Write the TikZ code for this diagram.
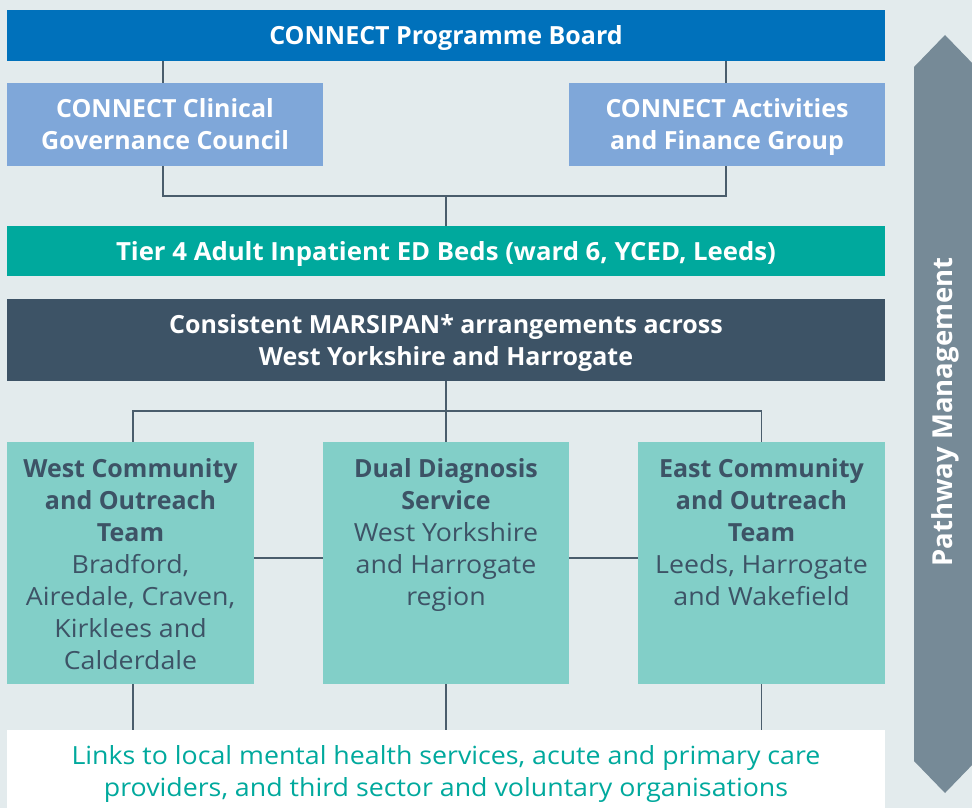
\documentclass[tikz,border=0pt]{standalone}
\usepackage{fontspec}
\setmainfont{Open Sans}[UprightFeatures={FakeStretch=1.07}]
\definecolor{bgc}{HTML}{E3EBED}
\definecolor{boardc}{HTML}{0071BB}
\definecolor{groupc}{HTML}{7FA7D9}
\definecolor{tealc}{HTML}{00A99D}
\definecolor{darkc}{HTML}{3D5366}
\definecolor{servc}{HTML}{82CFC8}
\definecolor{linec}{HTML}{4A5D6C}
\definecolor{arrowc}{HTML}{768A97}
% fixed line box: 25pt above, 7pt below the baseline
\newcommand\lnstrut{\rule[-7pt]{0pt}{32pt}}
\begin{document}
\begin{tikzpicture}[x=1pt,y=-1pt,
  txt/.style={font=\fontsize{25}{32}\selectfont},
  bar/.style={font=\fontsize{25}{32}\selectfont\bfseries,text=white,
    align=center,inner sep=0pt,minimum width=878pt,anchor=center},
  group/.style={bar,fill=groupc,minimum width=316pt,minimum height=83pt},
  servbox/.style={fill=servc,inner sep=0pt,minimum width=247pt,minimum height=242pt},
  servtext/.style={font=\fontsize{25}{32}\selectfont,text=darkc,align=center,
    inner sep=0pt,anchor=north},
  link/.style={draw=linec,line width=1.2pt}]
\useasboundingbox (0,0) rectangle (972,808);
\clip (0,0) rectangle (972,808);
\fill[bgc] (0,0) rectangle (972,808);

% governance layer
\node[bar,fill=boardc,minimum height=51pt] (board) at (446,35.5) {\lnstrut CONNECT Programme Board};
\node[group] (clin) at (165,124.5) {\lnstrut CONNECT Clinical\\\lnstrut Governance Council};
\node[group] (fin) at (727,124.5) {\lnstrut CONNECT Activities\\\lnstrut and Finance Group};
\node[bar,fill=tealc,minimum height=50pt] (tier) at (446,251) {\lnstrut\addfontfeature{FakeStretch=1.03}Tier 4 Adult Inpatient ED Beds (ward 6, YCED, Leeds)};
\node[bar,fill=darkc,minimum height=82pt] (mars) at (446,340) {\lnstrut Consistent MARSIPAN* arrangements across\\\lnstrut West Yorkshire and Harrogate};

% service teams
\node[servbox] (west) at (130.5,563) {};
\node[servbox,minimum width=246pt] (dual) at (446,563) {};
\node[servbox] (east) at (761.5,563) {};
\node[servtext] (westtxt) at (130.5,458) {\textbf{West Community}\\\textbf{and Outreach}\\\textbf{Team}\\Bradford,\\Airedale, Craven,\\Kirklees and\\Calderdale};
\node[servtext] (dualtxt) at (446,458) {\textbf{Dual Diagnosis}\\\textbf{Service}\\West Yorkshire\\and Harrogate\\region};
\node[servtext] (easttxt) at (761.5,458) {\textbf{East Community}\\\textbf{and Outreach}\\\textbf{Team}\\Leeds, Harrogate\\and Wakefield};

% local links
\node[fill=white,inner sep=0pt,minimum width=878pt,minimum height=78pt] (links) at (446,769) {};
\node[txt,text=tealc,align=center,inner sep=0pt] (linkstxt) at (446,771.5) {\lnstrut Links to local mental health services, acute and primary care\\\lnstrut providers, and third sector and voluntary organisations};

% connectors
\coordinate (j1) at (446,196);
\coordinate (j2) at (446,411);
\draw[link] ([xshift=-2pt]clin.north |- board.south) -- ([xshift=-2pt]clin.north);
\draw[link] ([xshift=-1pt]fin.north |- board.south) -- ([xshift=-1pt]fin.north);
\draw[link] ([xshift=-2pt]clin.south) |- (j1) -| ([xshift=-1pt]fin.south);
\draw[link] (j1) -- (tier.north);
\draw[link] (mars.south) -- (dual.north);
\draw[link] ([xshift=2.5pt]west.north) |- (j2) -| (east.north);
\draw[link] ([yshift=5pt]west.east) -- ([yshift=5pt]dual.west);
\draw[link] ([yshift=5pt]dual.east) -- ([yshift=5pt]east.west);
\draw[link] ([xshift=2.5pt]west.south) -- ([xshift=2.5pt]west.south |- links.north);
\draw[link] (dual.south) -- (dual.south |- links.north);
\draw[link] (east.south) -- (east.south |- links.north);

% pathway management arrow
\fill[arrowc] (914,67) -- (945,35) -- (976,67) -- (976,761) -- (945,793) -- (914,761) -- cycle;
\node[font=\fontsize{27.5}{32}\selectfont\bfseries,text=white,rotate=90,inner sep=0pt] (path) at (945,412) {Pathway Management};
\end{tikzpicture}
\end{document}
